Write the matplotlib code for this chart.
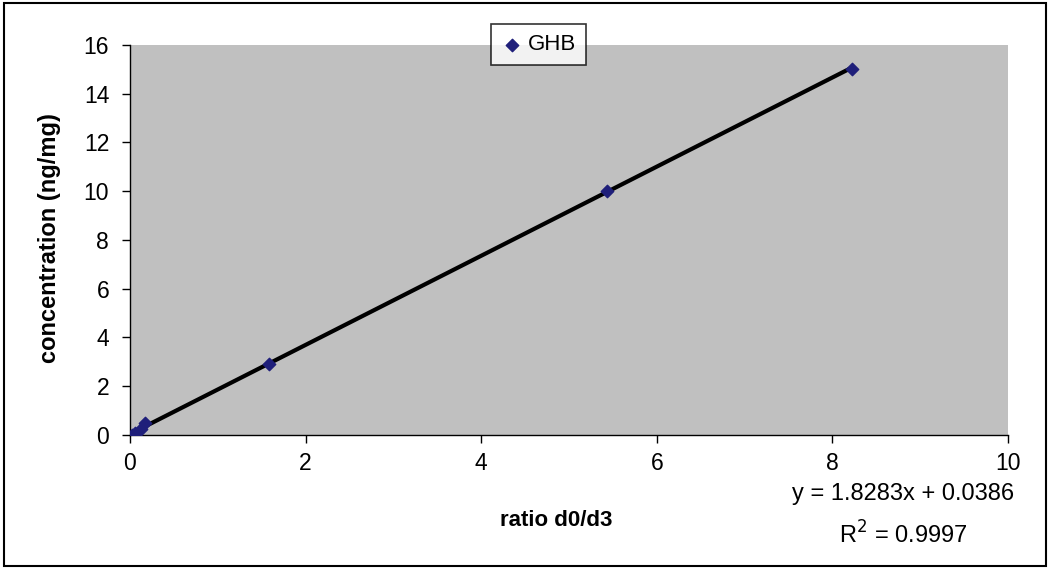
import numpy as np
import matplotlib.pyplot as plt
from matplotlib.patches import Rectangle

plt.rcParams['font.family'] = ['Liberation Sans', 'DejaVu Sans']

ratio = [0.02, 0.06, 0.12, 0.17, 1.58, 5.43, 8.22]
conc = [0.0, 0.1, 0.25, 0.5, 2.9, 10.0, 15.0]
slope, intercept = 1.8283, 0.0386
r2 = 0.9997

fig = plt.figure(figsize=(10.5, 5.69), dpi=100)
fig.patch.set_facecolor('white')
fig.patches.append(Rectangle((0.004, 0.005), 0.992, 0.99, transform=fig.transFigure,
                             fill=False, edgecolor='black', linewidth=1.5))

ax = fig.add_axes([0.1238, 0.2355, 0.8362, 0.6855])
ax.set_facecolor('#c0c0c0')

xs = np.array([min(ratio), max(ratio)])
ax.plot(xs, slope * xs + intercept, color='black', linewidth=3, zorder=2)
ax.scatter(ratio, conc, marker='D', s=40, color='#1f1f7a', zorder=3, label='GHB')

ax.set_xlim(0, 10)
ax.set_ylim(0, 16)
ax.set_xticks(range(0, 11, 2))
ax.set_yticks(range(0, 17, 2))
ax.tick_params(labelsize=16.5, length=6, width=1.0, direction='out', pad=6)
ax.tick_params(axis='y', pad=9)
for s in ['top', 'right']:
    ax.spines[s].set_visible(False)
for s in ['left', 'bottom']:
    ax.spines[s].set_linewidth(1.0)

fig.text(556 / 1050, 1 - 520 / 569, 'ratio d0/d3', fontsize=16, fontweight='bold',
         ha='center', va='center')
fig.text(50 / 1050, 1 - 238 / 569, 'concentration (ng/mg)', fontsize=17, fontweight='bold',
         ha='center', va='center', rotation=90)

fig.text(903 / 1050, 1 - 494 / 569, f'y = {slope}x + {intercept}', fontsize=17,
         ha='center', va='center')
fig.text(903 / 1050, 1 - 535 / 569, f'R$^2$ = {r2}', fontsize=17, ha='center', va='center')

leg = ax.legend(loc='center', bbox_to_anchor=(0.465, 1.0), fontsize=16, frameon=True,
                fancybox=False, edgecolor='black', handletextpad=0.2, borderpad=0.45,
                handlelength=1.0, markerscale=1.0)
leg.get_frame().set_linewidth(1.2)

plt.savefig('out.png', dpi=100)
